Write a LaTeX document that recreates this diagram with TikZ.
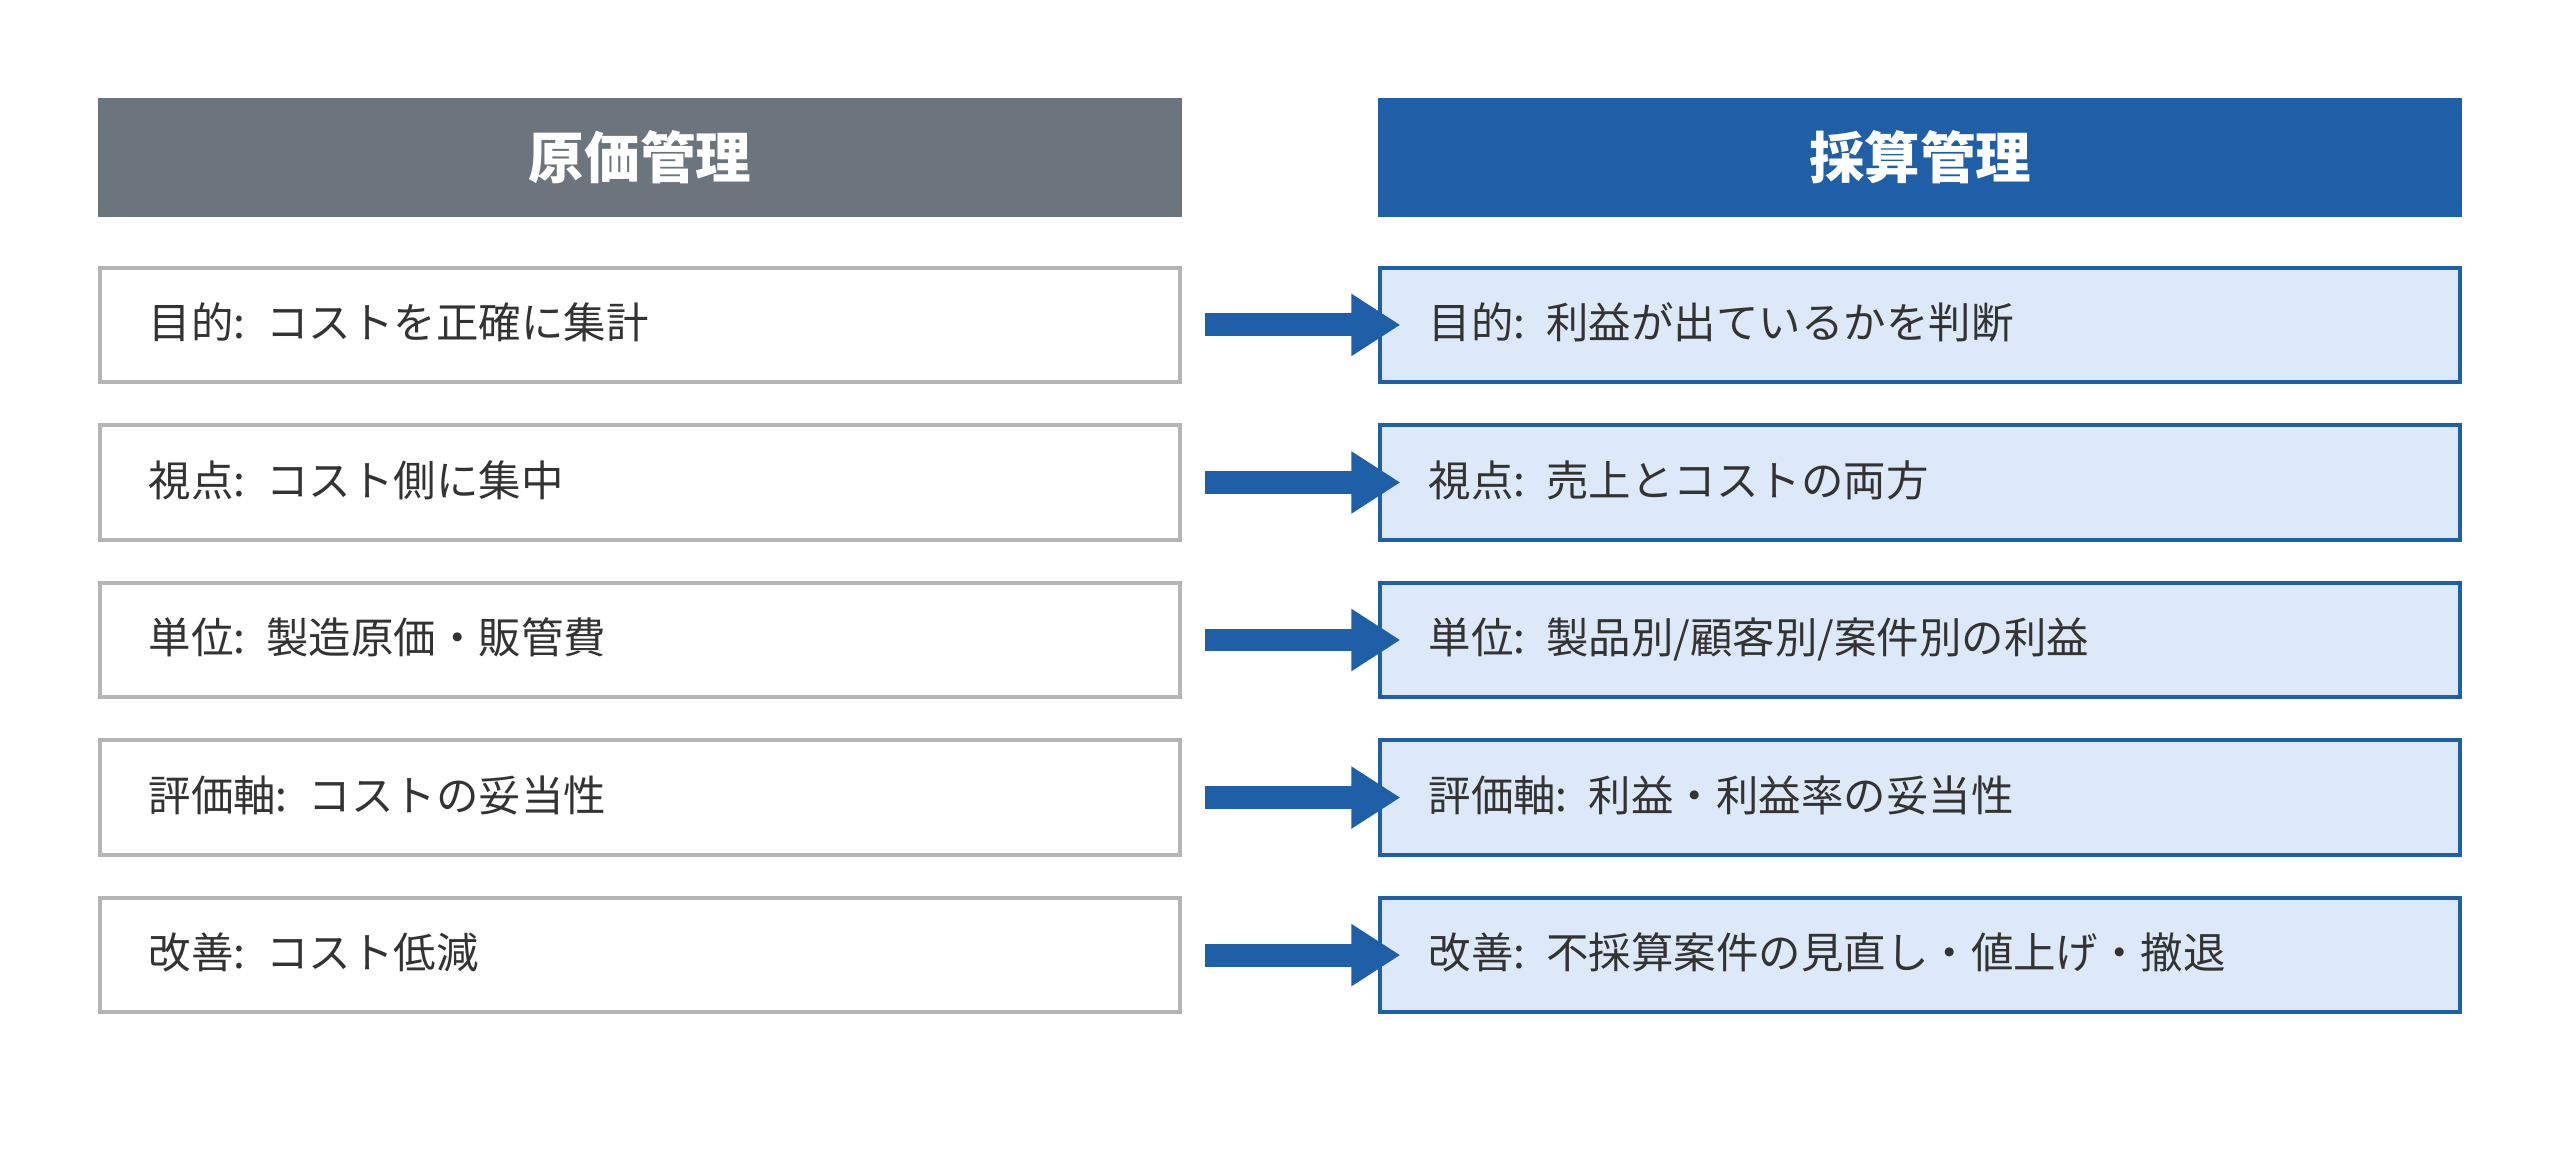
\documentclass[tikz,border=0pt]{standalone}
\usepackage{fontspec}
\setmainfont{Noto Sans CJK JP}
\usetikzlibrary{positioning,arrows.meta}
\definecolor{headgray}{HTML}{6C757D}
\definecolor{headblue}{HTML}{1F5FA8}
\definecolor{paleblue}{HTML}{DDE9F8}
\definecolor{boxgray}{HTML}{B5B5B5}
\definecolor{txt}{HTML}{333333}
\tikzset{
  head/.style={minimum width=664pt,minimum height=73pt,inner sep=0pt,text=white,font=\fontsize{34}{40}\selectfont\bfseries},
  oldbox/.style={draw=boxgray,line width=2.5pt,fill=white,minimum width=662pt,minimum height=70pt,inner sep=0pt,text width=602pt,align=left,text=txt,font=\fontsize{26}{30}\selectfont},
  newbox/.style={oldbox,draw=headblue,fill=paleblue},
  arr/.style={draw=headblue,line width=14pt,-{Triangle[length=30pt,width=36pt]}}
}
\newcommand\uptxt[1]{\raisebox{5pt}{#1}}
\begin{document}
\begin{tikzpicture}[x=1pt,y=-1pt]
  \useasboundingbox (0,0) rectangle (1568,705);
  \node[head,fill=headgray] (hl) at (392,96.5) {原価管理};
  \node[head,fill=headblue] (hr) at (1176,96.5) {採算管理};
  \foreach \n/\y/\a/\b in {1/199/{目的: コストを正確に集計}/{目的: 利益が出ているかを判断},
                           2/295.5/{視点: コスト側に集中}/{視点: 売上とコストの両方},
                           3/392/{単位: 製造原価・販管費}/{単位: 製品別/顧客別/案件別の利益},
                           4/488.5/{評価軸: コストの妥当性}/{評価軸: 利益・利益率の妥当性},
                           5/585/{改善: コスト低減}/{改善: 不採算案件の見直し・値上げ・撤退}}{
    \node[oldbox] (l\n) at (392,\y) {\uptxt{\a}};
    \node[newbox] (r\n) at (1176,\y) {\uptxt{\b}};
    \draw[arr] ([xshift=14pt]l\n.east) -- ([xshift=14pt]r\n.west);
  }
\end{tikzpicture}
\end{document}
